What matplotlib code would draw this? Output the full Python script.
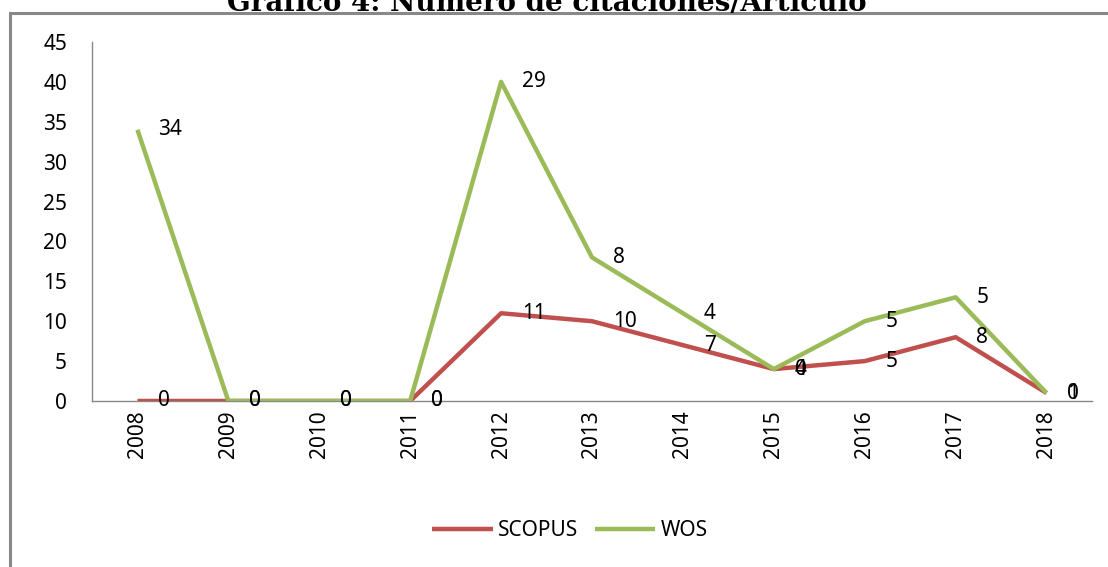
import numpy as np
import matplotlib.pyplot as plt
from matplotlib.patches import Rectangle

# data
years = ['2008', '2009', '2010', '2011', '2012', '2013', '2014', '2015', '2016', '2017', '2018']
scopus = [0, 0, 0, 0, 11, 10, 7, 4, 5, 8, 1]
wos = [34, 0, 0, 0, 29, 8, 4, 0, 5, 5, 0]

plt.rcParams['font.family'] = ['Noto Sans', 'DejaVu Sans']

fig = plt.figure(figsize=(11.08, 5.67), dpi=100)
ax = fig.add_axes([92/1108, 1 - 401/567, 1000/1108, 359/567])

x = np.arange(len(years))
scopus = np.array(scopus)
wos_stacked = scopus + np.array(wos)   # linea apilada como en Excel

red = '#C0504D'
green = '#9BBB59'
fs = 15
ax.plot(x, scopus, color=red, lw=3.2, label='SCOPUS', solid_capstyle='butt', zorder=3)
ax.plot(x, wos_stacked, color=green, lw=3.2, label='WOS', solid_capstyle='butt', zorder=3)

# etiquetas de datos a la derecha del punto
for xi, v in zip(x, scopus):
    ax.annotate(str(v), (xi, v), xytext=(15, 0), textcoords='offset points',
                ha='left', va='center', fontsize=fs, zorder=4)
for xi, v, s in zip(x, wos, wos_stacked):
    ax.annotate(str(v), (xi, s), xytext=(15, 0), textcoords='offset points',
                ha='left', va='center', fontsize=fs, zorder=4)

ax.set_xlim(-0.5, len(years) - 0.5)
ax.set_ylim(0, 45)
ax.set_yticks(range(0, 50, 5))
ax.set_xticks(x)
ax.set_xticklabels(years, rotation=90)
ax.tick_params(axis='both', length=0, labelsize=fs, pad=7)
ax.tick_params(axis='y', pad=18)

for s in ['top', 'right']:
    ax.spines[s].set_visible(False)
for s in ['left', 'bottom']:
    ax.spines[s].set_color('#888888')
    ax.spines[s].set_linewidth(1)

leg = ax.legend(loc='center', bbox_to_anchor=(570/1108, 1 - 531/567),
                bbox_transform=fig.transFigure, ncol=2, frameon=False,
                fontsize=fs, handlelength=2.9, columnspacing=0.8, handletextpad=0.25)

# marco del grafico
fig.patches.append(Rectangle((10/1108, -0.2), 1.5, 1.2 + (1 - 13/567) - 1,
                             transform=fig.transFigure, fill=False,
                             edgecolor='#888888', lw=2.2, zorder=0))

fig.text(547/1108, 1 - 11/567, 'Gráfico 4: Número de citaciones/Artículo',
         ha='center', va='baseline', fontsize=20, fontweight='bold',
         family='DejaVu Serif')

plt.savefig('out.png', dpi=100)
